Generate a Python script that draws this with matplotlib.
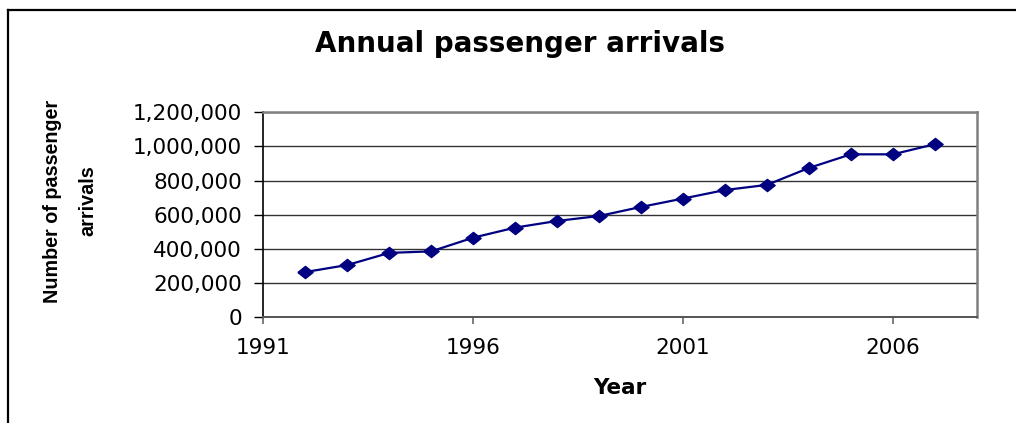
import matplotlib
matplotlib.use("Agg")
import matplotlib.pyplot as plt
from matplotlib.lines import Line2D
from matplotlib.ticker import FuncFormatter, MultipleLocator

years = [1992, 1993, 1994, 1995, 1996, 1997, 1998, 1999,
         2000, 2001, 2002, 2003, 2004, 2005, 2006, 2007]
arrivals = [265000, 306000, 377000, 386000, 466000, 525000, 564000, 593000,
            646000, 695000, 745000, 775000, 874000, 954000, 954000, 1013000]
x_ticks = [1991, 1996, 2001, 2006]

title = "Annual passenger arrivals"
xlabel = "Year"
ylabel = "Number of passenger\narrivals"

W, H = 1016, 423
fig = plt.figure(figsize=(W / 100, H / 100), dpi=100)
fig.patch.set_facecolor("white")

# plot area in pixels
L, R, T, B = 263.3, 976.7, 112.3, 317.3
ax = fig.add_axes([L / W, 1 - B / H, (R - L) / W, (B - T) / H])

diamond = [(-1, 0), (0, 0.8), (1, 0), (0, -0.8), (-1, 0)]
ax.plot(years, arrivals, color="#000080", lw=1.6, marker=diamond,
        markersize=11, markerfacecolor="#000080", markeredgecolor="#000080",
        zorder=3, clip_on=False)

ax.set_xlim(1991, 2008)
ax.set_ylim(0, 1200000)
ax.set_xticks(x_ticks)
ax.yaxis.set_major_locator(MultipleLocator(200000))
ax.yaxis.set_major_formatter(FuncFormatter(lambda v, p: f"{int(v):,}"))
ax.grid(axis="y", color="#333333", lw=1.0)
ax.set_axisbelow(True)

for s in ["top", "right"]:
    ax.spines[s].set_color("#808080")
    ax.spines[s].set_linewidth(1.8)
ax.spines["bottom"].set_color("#555555")
ax.spines["bottom"].set_linewidth(1.4)
ax.spines["left"].set_color("black")
ax.spines["left"].set_linewidth(1.2)

ax.tick_params(axis="y", direction="out", length=6.5, width=1, color="black",
               pad=9, labelsize=15.5)
ax.tick_params(axis="x", direction="out", length=5, width=1.2, color="#666666",
               pad=10, labelsize=15.5)
for lab in ax.get_xticklabels() + ax.get_yticklabels():
    lab.set_family("DejaVu Sans")

fig.text(520 / W, 1 - 44 / H, title, ha="center", va="center",
         family="DejaVu Sans", fontweight="bold", fontsize=20)
fig.text(620 / W, 1 - 388 / H, xlabel, ha="center", va="center",
         family="DejaVu Sans", fontweight="bold", fontsize=15.5)
fig.text(70 / W, 1 - 201 / H, ylabel, ha="center", va="center",
         rotation=90, family="Liberation Sans", fontweight="bold",
         fontsize=14.2, linespacing=2.05, multialignment="center")

# outer frame (top and left edges visible)
fig.add_artist(Line2D([8 / W, 1.0], [1 - 10 / H, 1 - 10 / H],
                      transform=fig.transFigure, color="black", lw=1.6))
fig.add_artist(Line2D([8 / W, 8 / W], [1 - 10 / H, 0.0],
                      transform=fig.transFigure, color="black", lw=1.6))

fig.savefig("out.png", dpi=100, facecolor="white")
